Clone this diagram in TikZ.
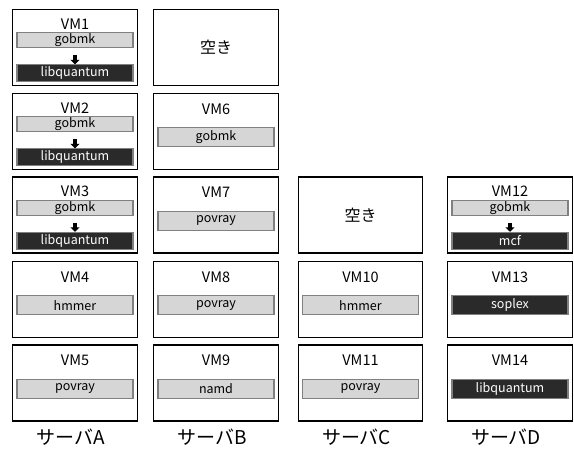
\documentclass[tikz,border=0pt]{standalone}
\usepackage{fontspec}
\setmainfont{Noto Sans CJK JP}
\usetikzlibrary{arrows.meta,positioning}
\definecolor{jobgray}{HTML}{D6D6D6}
\definecolor{jobdark}{HTML}{2A2A2A}
\definecolor{jobedge}{HTML}{808080}

\begin{document}
\begin{tikzpicture}[x=1pt,y=-1pt,
  vmbox/.style={draw, line width=1.4pt, minimum width=124.5pt, minimum height=76pt, inner sep=0pt},
  vmname/.style={inner sep=0pt, font=\fontsize{14.5}{14.5}\selectfont},
  lightjob/.style={draw=jobedge, fill=jobgray, line width=1.1pt, minimum width=116pt, inner sep=0pt, font=\fontsize{12.5}{12.5}\selectfont},
  darkjob/.style={lightjob, fill=jobdark, text=white},
  freebox/.style={vmbox, font=\fontsize{16}{16}\selectfont},
  server/.style={inner sep=0pt, font=\fontsize{19}{19}\selectfont},
  migrate/.style={-{Triangle[width=9pt,length=4.5pt]}, line width=3.5pt, shorten <=7pt}]
  \useasboundingbox (0,0) rectangle (574,448);

  % Server A
  \node[vmbox] (vm1) at (75,47.5) {};
  \node[vmname] (vm1-name) at ([yshift=-15pt]vm1.north) {VM1};
  \node[lightjob, minimum height=15pt] (vm1-job1) at ([yshift=-31.5pt]vm1.north) {gobmk};
  \node[darkjob, minimum height=17pt] (vm1-job2) at ([yshift=-64.5pt]vm1.north) {libquantum};
  \draw[migrate] (vm1-job1) -- (vm1-job2);

  \node[vmbox] (vm2) at (75,131.5) {};
  \node[vmname] (vm2-name) at ([yshift=-15pt]vm2.north) {VM2};
  \node[lightjob, minimum height=15pt] (vm2-job1) at ([yshift=-31.5pt]vm2.north) {gobmk};
  \node[darkjob, minimum height=17pt] (vm2-job2) at ([yshift=-64.5pt]vm2.north) {libquantum};
  \draw[migrate] (vm2-job1) -- (vm2-job2);

  \node[vmbox] (vm3) at (75,215) {};
  \node[vmname] (vm3-name) at ([yshift=-15pt]vm3.north) {VM3};
  \node[lightjob, minimum height=15pt] (vm3-job1) at ([yshift=-31.5pt]vm3.north) {gobmk};
  \node[darkjob, minimum height=17pt] (vm3-job2) at ([yshift=-64.5pt]vm3.north) {libquantum};
  \draw[migrate] (vm3-job1) -- (vm3-job2);

  \node[vmbox] (vm4) at (75,299.5) {};
  \node[vmname] (vm4-name) at ([yshift=-16pt]vm4.north) {VM4};
  \node[lightjob, minimum height=19pt] (vm4-job) at ([yshift=-44.5pt]vm4.north) {hmmer};

  \node[vmbox] (vm5) at (75,383) {};
  \node[vmname] (vm5-name) at ([yshift=-16pt]vm5.north) {VM5};
  \node[lightjob, minimum height=19pt] (vm5-job) at ([yshift=-44.5pt]vm5.north) {povray};

  % Server B
  \node[freebox] (freeB) at (216,47.5) {空き};

  \node[vmbox] (vm6) at (216,131.5) {};
  \node[vmname] (vm6-name) at ([yshift=-16pt]vm6.north) {VM6};
  \node[lightjob, minimum height=19pt] (vm6-job) at ([yshift=-44.5pt]vm6.north) {gobmk};

  \node[vmbox] (vm7) at (216,215) {};
  \node[vmname] (vm7-name) at ([yshift=-16pt]vm7.north) {VM7};
  \node[lightjob, minimum height=19pt] (vm7-job) at ([yshift=-44.5pt]vm7.north) {povray};

  \node[vmbox] (vm8) at (216,299.5) {};
  \node[vmname] (vm8-name) at ([yshift=-16pt]vm8.north) {VM8};
  \node[lightjob, minimum height=19pt] (vm8-job) at ([yshift=-44.5pt]vm8.north) {povray};

  \node[vmbox] (vm9) at (216,383) {};
  \node[vmname] (vm9-name) at ([yshift=-16pt]vm9.north) {VM9};
  \node[lightjob, minimum height=19pt] (vm9-job) at ([yshift=-44.5pt]vm9.north) {namd};

  % Server C
  \node[freebox] (freeC) at (360.5,215) {空き};

  \node[vmbox] (vm10) at (360.5,299.5) {};
  \node[vmname] (vm10-name) at ([yshift=-16pt]vm10.north) {VM10};
  \node[lightjob, minimum height=19pt] (vm10-job) at ([yshift=-44.5pt]vm10.north) {hmmer};

  \node[vmbox] (vm11) at (360.5,383) {};
  \node[vmname] (vm11-name) at ([yshift=-16pt]vm11.north) {VM11};
  \node[lightjob, minimum height=19pt] (vm11-job) at ([yshift=-44.5pt]vm11.north) {povray};

  % Server D
  \node[vmbox] (vm12) at (510,215) {};
  \node[vmname] (vm12-name) at ([yshift=-15pt]vm12.north) {VM12};
  \node[lightjob, minimum height=15pt] (vm12-job1) at ([yshift=-31.5pt]vm12.north) {gobmk};
  \node[darkjob, minimum height=17pt] (vm12-job2) at ([yshift=-64.5pt]vm12.north) {mcf};
  \draw[migrate] (vm12-job1) -- (vm12-job2);

  \node[vmbox] (vm13) at (510,299.5) {};
  \node[vmname] (vm13-name) at ([yshift=-16pt]vm13.north) {VM13};
  \node[darkjob, minimum height=19pt] (vm13-job) at ([yshift=-44.5pt]vm13.north) {soplex};

  \node[vmbox] (vm14) at (510,383) {};
  \node[vmname] (vm14-name) at ([yshift=-16pt]vm14.north) {VM14};
  \node[darkjob, minimum height=19pt] (vm14-job) at ([yshift=-44.5pt]vm14.north) {libquantum};

  % Server names
  \node[server] (srvA) at ([xshift=-4pt,yshift=-15pt]vm5.south) {サーバA};
  \node[server] (srvB) at ([xshift=-4pt,yshift=-15pt]vm9.south) {サーバB};
  \node[server] (srvC) at ([xshift=-4pt,yshift=-15pt]vm11.south) {サーバC};
  \node[server] (srvD) at ([xshift=-4pt,yshift=-15pt]vm14.south) {サーバD};
\end{tikzpicture}
\end{document}
